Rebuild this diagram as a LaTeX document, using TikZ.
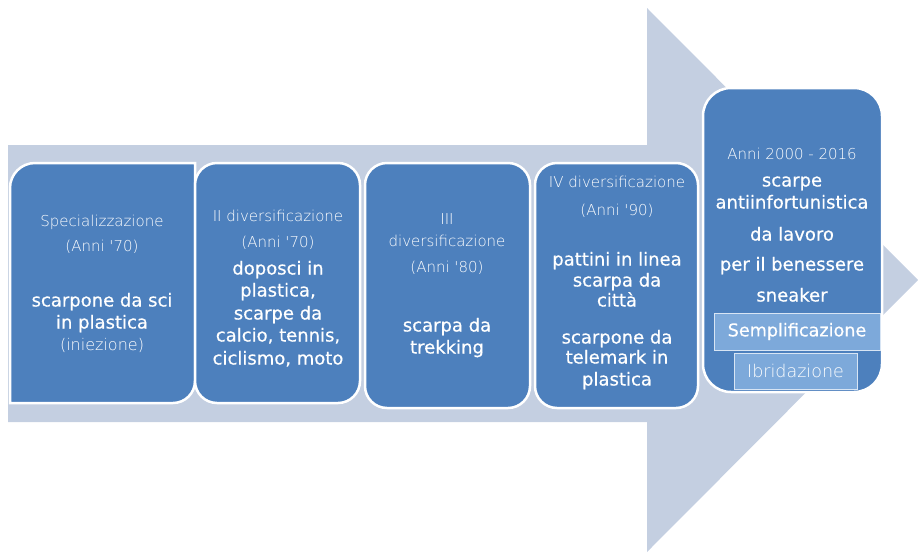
\documentclass[tikz,border=0pt]{standalone}
\usepackage{fontspec}
\setmainfont{DejaVu Sans}
\newfontfamily\lightfont{DejaVu Sans ExtraLight}
\newfontfamily\heavyfont{DejaVu Sans}[FakeBold=0.5]
\definecolor{boxblue}{HTML}{4D80BD}
\definecolor{arrowc}{HTML}{C4CFE1}
\definecolor{lightbox}{HTML}{7DA9DA}
\begin{document}
\begin{tikzpicture}[x=1pt,y=-1pt,
  box/.style={fill=boxblue,draw=white,line width=2.5pt},
  rbox/.style={box,rounded corners=#1,inner sep=0pt},
  tag/.style={fill=lightbox,draw=white!70!lightbox,line width=1pt,inner sep=0pt,text=white},
  big/.style={text=white,font=\heavyfont\fontsize{18}{21}\selectfont,inner sep=0pt,text height=13pt,text depth=4pt},
  small/.style={text=white,font=\lightfont\fontsize{15}{18}\selectfont,inner sep=0pt,text height=11pt,text depth=3pt}]
\useasboundingbox (0,0) rectangle (918,555);
% big arrow
\fill[arrowc] (8,145) -- (647,145) -- (647,8) -- (918,280) -- (647,552) -- (647,422) -- (8,422) -- cycle;
% box 1
\path[box] (10,403) -- (10,188) arc[start angle=180,end angle=270,radius=25] -- (195,163) -- (195,381) arc[start angle=0,end angle=90,radius=22] -- (173,403) -- cycle;
% other boxes
\node[rbox=22pt,minimum width=165pt,minimum height=240pt] (b2) at (277.5,283) {};
\node[rbox=22pt,minimum width=165pt,minimum height=245pt] (b3) at (447.5,285.5) {};
\node[rbox=22pt,minimum width=163pt,minimum height=245pt] (b4) at (616.5,285.5) {};
\node[rbox=28pt,minimum width=179pt,minimum height=304pt] (b5) at (792.5,240) {};
\node[tag,minimum width=166pt,minimum height=37pt,font=\heavyfont\fontsize{17.6}{20}\selectfont] (semp) at (797,331.5) {Semplificazione};
\node[tag,minimum width=123pt,minimum height=36pt,font=\lightfont\fontsize{17.5}{20}\selectfont] (ibr) at (795.5,371) {Ibridazione};
% box 1 texts
\node[small] (t1a) at (102,222) {Specializzazione};
\node[small] (t1b) at (102,247) {(Anni '70)};
\node[big] (t1c) at (102,302) {scarpone da sci};
\node[big] (t1d) at (102,324) {in plastica};
\node[small,font=\lightfont\fontsize{16}{18}\selectfont] (t1e) at (102,346) {(iniezione)};
% box 2 texts
\node[small] (t2a) at (278,217) {II diversificazione};
\node[small] (t2b) at (278,243) {(Anni '70)};
\node[big] (t2c) at (278,270) {doposci in};
\node[big] (t2d) at (278,292) {plastica,};
\node[big] (t2e) at (278,315) {scarpe da};
\node[big] (t2f) at (278,337) {calcio, tennis,};
\node[big] (t2g) at (278,360) {ciclismo, moto};
% box 3 texts
\node[small] (t3a) at (447,220) {III};
\node[small] (t3b) at (447,242) {diversificazione};
\node[small] (t3c) at (447,268) {(Anni '80)};
\node[big] (t3d) at (447,327) {scarpa da};
\node[big] (t3e) at (447,349) {trekking};
% box 4 texts
\node[small] (t4a) at (617,183) {IV diversificazione};
\node[small] (t4b) at (617,211) {(Anni '90)};
\node[big] (t4c) at (617,261) {pattini in linea};
\node[big] (t4d) at (617,282) {scarpa da};
\node[big] (t4e) at (617,302) {città};
\node[big] (t4f) at (617,339) {scarpone da};
\node[big] (t4g) at (617,359) {telemark in};
\node[big] (t4h) at (617,381) {plastica};
% box 5 texts
\node[small] (t5a) at (792,155) {Anni 2000 - 2016};
\node[big] (t5b) at (792,182) {scarpe};
\node[big] (t5c) at (792,204) {antiinfortunistica};
\node[big] (t5d) at (792,236) {da lavoro};
\node[big] (t5e) at (792,266) {per il benessere};
\node[big] (t5f) at (792,297) {sneaker};
\end{tikzpicture}
\end{document}
